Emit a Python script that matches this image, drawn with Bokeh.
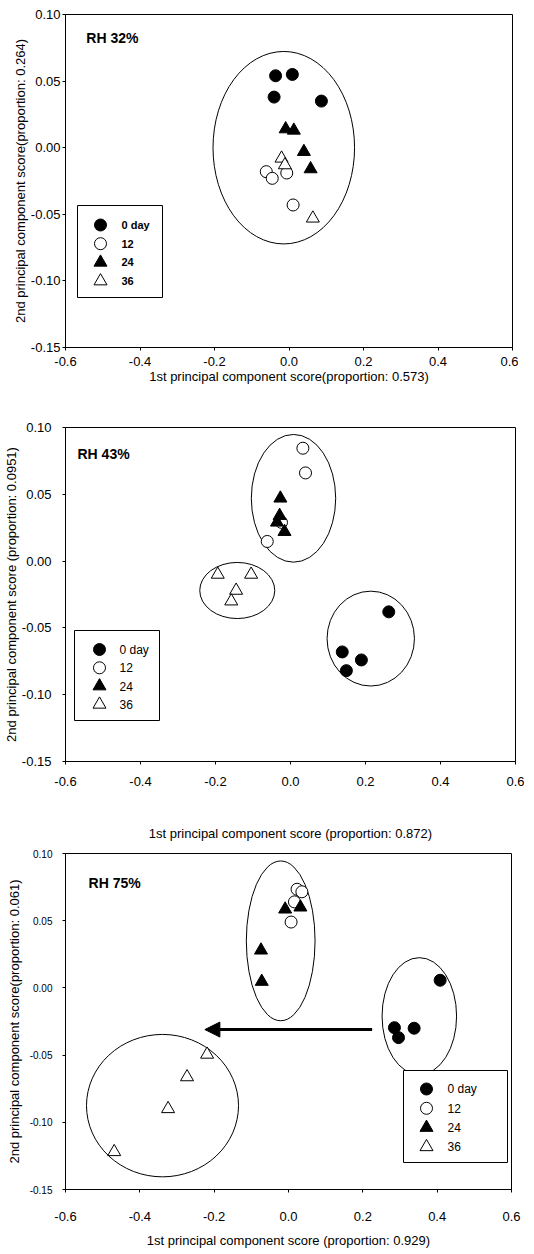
from bokeh.plotting import figure
from bokeh.layouts import column
from bokeh.models import (Range1d, FixedTicker, PrintfTickFormatter, Arrow,
                          NormalHead)
from bokeh.core.properties import value
from bokeh.embed import file_html
from bokeh.resources import INLINE

FONT = "Liberation Sans"

groups = ["0 day", "12", "24", "36"]
x_ticks = [-0.6, -0.4, -0.2, 0.0, 0.2, 0.4, 0.6]
y_ticks = [-0.15, -0.10, -0.05, 0.0, 0.05, 0.10]

# ---------------- RH 32% ----------------
rh32_label = "RH 32%"
rh32_xtitle = "1st principal component score(proportion: 0.573)"
rh32_ytitle = "2nd principal component score(proportion: 0.264)"
rh32_d0_x = [-0.036, 0.009, -0.040, 0.087]
rh32_d0_y = [0.054, 0.055, 0.038, 0.035]
rh32_d12_x = [-0.061, -0.045, -0.006, 0.011]
rh32_d12_y = [-0.018, -0.023, -0.019, -0.043]
rh32_d24_x = [-0.009, 0.013, 0.040, 0.058]
rh32_d24_y = [0.014, 0.013, -0.003, -0.016]
rh32_d36_x = [-0.020, -0.011, 0.064]
rh32_d36_y = [-0.008, -0.013, -0.053]
rh32_ell_x = [-0.014]
rh32_ell_y = [0.0]
rh32_ell_w = [0.380]
rh32_ell_h = [0.1445]

# ---------------- RH 43% ----------------
rh43_label = "RH  43%"
rh43_xtitle = "1st principal component score (proportion: 0.872)"
rh43_ytitle = "2nd principal component score (proportion: 0.0951)"
rh43_d0_x = [0.262, 0.138, 0.149, 0.189]
rh43_d0_y = [-0.038, -0.068, -0.082, -0.074]
rh43_d12_x = [0.033, 0.040, -0.062, -0.024]
rh43_d12_y = [0.0845, 0.066, 0.0147, 0.029]
rh43_d24_x = [-0.027, -0.029, -0.036, -0.016]
rh43_d24_y = [0.047, 0.034, 0.029, 0.022]
rh43_d36_x = [-0.194, -0.105, -0.145, -0.158]
rh43_d36_y = [-0.010, -0.010, -0.022, -0.030]
rh43_ell_x = [0.008, -0.142, 0.214]
rh43_ell_y = [0.047, -0.022, -0.058]
rh43_ell_w = [0.225, 0.200, 0.233]
rh43_ell_h = [0.0956, 0.042, 0.071]

# ---------------- RH 75% ----------------
rh75_label = "RH 75%"
rh75_xtitle = "1st principal component score (proportion: 0.929)"
rh75_ytitle = "2nd principal component score(proportion: 0.061)"
rh75_d0_x = [0.408, 0.285, 0.296, 0.338]
rh75_d0_y = [0.0057, -0.0296, -0.037, -0.030]
rh75_d12_x = [0.023, 0.036, 0.016, 0.007]
rh75_d12_y = [0.0734, 0.0715, 0.064, 0.049]
rh75_d24_x = [-0.009, 0.032, -0.074, -0.072]
rh75_d24_y = [0.0585, 0.060, 0.028, 0.0047]
rh75_d36_x = [-0.219, -0.273, -0.324, -0.469]
rh75_d36_y = [-0.0495, -0.0663, -0.090, -0.122]
rh75_ell_x = [-0.021, 0.352, -0.339]
rh75_ell_y = [0.035, -0.021, -0.0876]
rh75_ell_w = [0.185, 0.2005, 0.409]
rh75_ell_h = [0.119, 0.087, 0.106]
rh75_arrow_x = [0.225, -0.225]
rh75_arrow_y = [-0.031, -0.031]

STYLES = [("circle", "black", 12), ("circle", "white", 12),
          ("triangle", "black", 13), ("triangle", "white", 13)]


def make_panel(series, ell, label, label_xy, xtitle, ytitle, geom, axcfg, legcfg):
    fw, fh, bl, br, bt, bb = geom
    p = figure(frame_width=fw, frame_height=fh,
               min_border_left=bl, min_border_right=br,
               min_border_top=bt, min_border_bottom=bb,
               x_range=Range1d(-0.6, 0.6), y_range=Range1d(-0.15, 0.10),
               output_backend="svg", toolbar_location=None)
    # pixel-unit ranges of the frame, used only to place the key box
    p.extra_x_ranges = {"px": Range1d(0, fw)}
    p.extra_y_ranges = {"py": Range1d(0, fh)}
    p.grid.visible = False
    p.background_fill_color = "white"
    p.border_fill_color = "white"
    p.outline_line_color = "black"
    p.outline_line_alpha = 1.0
    p.outline_line_width = 1

    p.xaxis.ticker = FixedTicker(ticks=x_ticks)
    p.yaxis.ticker = FixedTicker(ticks=y_ticks)
    p.xaxis.formatter = PrintfTickFormatter(format="%.1f")
    p.yaxis.formatter = PrintfTickFormatter(format="%.2f")
    for ax in (p.xaxis[0], p.yaxis[0]):
        ax.axis_line_color = "black"
        ax.major_tick_line_color = "black"
        ax.major_tick_out = 3
        ax.major_tick_in = 0
        ax.minor_tick_line_color = None
        ax.major_label_text_font = FONT
        ax.major_label_text_color = "black"
        ax.axis_label_text_font = FONT
        ax.axis_label_text_font_style = "normal"
        ax.axis_label_text_font_size = "13px"
        ax.axis_label_text_color = "black"
    p.xaxis.axis_label = xtitle
    p.yaxis.axis_label = ytitle
    (xls, xts, yls, yts, xfs, yfs) = axcfg
    p.xaxis.major_label_standoff = xls
    p.xaxis.axis_label_standoff = xts
    p.yaxis.major_label_standoff = yls
    p.yaxis.axis_label_standoff = yts
    p.xaxis.major_label_text_font_size = xfs
    p.yaxis.major_label_text_font_size = yfs

    p.ellipse(x=ell[0], y=ell[1], width=ell[2], height=ell[3],
              fill_color=None, line_color="black", line_width=1)

    for (xs, ys), (mk, fc, sz) in zip(series, STYLES):
        p.scatter(x=xs, y=ys, marker=mk, size=sz, fill_color=fc,
                  line_color="black", line_width=1)

    p.text(x=[label_xy[0]], y=[label_xy[1]], text=[label],
           text_font=value(FONT), text_font_size="14px",
           text_font_style="bold", text_align="left",
           text_baseline="middle", text_color="black")

    # key box (legend)
    L, B, W, H, first, pitch, mdx, ldx, lfs, lstyle = legcfg
    p.quad(left=[L], right=[L + W], bottom=[B], top=[B + H],
           x_range_name="px", y_range_name="py",
           fill_color="white", line_color="black", line_width=1)
    rows = [B + H - first - i * pitch for i in range(len(groups))]
    for yy, (mk, fc, sz) in zip(rows, STYLES):
        p.scatter(x=[L + mdx], y=[yy], marker=mk, size=sz, fill_color=fc,
                  line_color="black", line_width=1,
                  x_range_name="px", y_range_name="py")
    p.text(x=[L + ldx] * len(groups), y=rows, text=groups,
           x_range_name="px", y_range_name="py",
           text_font=value(FONT), text_font_size=lfs,
           text_font_style=lstyle, text_align="left",
           text_baseline="middle", text_color="black")
    return p


p1 = make_panel(
    [(rh32_d0_x, rh32_d0_y), (rh32_d12_x, rh32_d12_y),
     (rh32_d24_x, rh32_d24_y), (rh32_d36_x, rh32_d36_y)],
    (rh32_ell_x, rh32_ell_y, rh32_ell_w, rh32_ell_h),
    rh32_label, (-0.544, 0.082), rh32_xtitle, rh32_ytitle,
    (447, 333, 57, 14, 14, 62),
    (6, 0, 2, 0, "13px", "13px"),
    (12, 50, 85, 92, 19.5, 18.7, 23, 44, "11px", "bold"))

p2 = make_panel(
    [(rh43_d0_x, rh43_d0_y), (rh43_d12_x, rh43_d12_y),
     (rh43_d24_x, rh43_d24_y), (rh43_d36_x, rh43_d36_y)],
    (rh43_ell_x, rh43_ell_y, rh43_ell_w, rh43_ell_h),
    rh43_label, (-0.568, 0.080), rh43_xtitle, rh43_ytitle,
    (450, 334, 59, 9, 18, 82),
    (12, 37, 11, 0, "13px", "13px"),
    (9, 41, 85, 90, 19, 18.3, 25, 45, "12px", "normal"))

p3 = make_panel(
    [(rh75_d0_x, rh75_d0_y), (rh75_d12_x, rh75_d12_y),
     (rh75_d24_x, rh75_d24_y), (rh75_d36_x, rh75_d36_y)],
    (rh75_ell_x, rh75_ell_y, rh75_ell_w, rh75_ell_h),
    rh75_label, (-0.538, 0.078), rh75_xtitle, rh75_ytitle,
    (446, 336, 58, 14, 10, 56),
    (19, 9, 10, 5, "13px", "10px"),
    (338, 27, 104, 92, 18.5, 19.3, 23, 44, "12px", "normal"))

arrow = Arrow(end=NormalHead(size=15, fill_color="black", line_color="black"),
              x_start=rh75_arrow_x[0], y_start=rh75_arrow_y[0],
              x_end=rh75_arrow_x[1], y_end=rh75_arrow_y[1],
              line_width=3, line_color="black")
p3.add_layout(arrow)

layout = column(p1, p2, p3, spacing=0)
open("out.html", "w").write(file_html(layout, INLINE))
